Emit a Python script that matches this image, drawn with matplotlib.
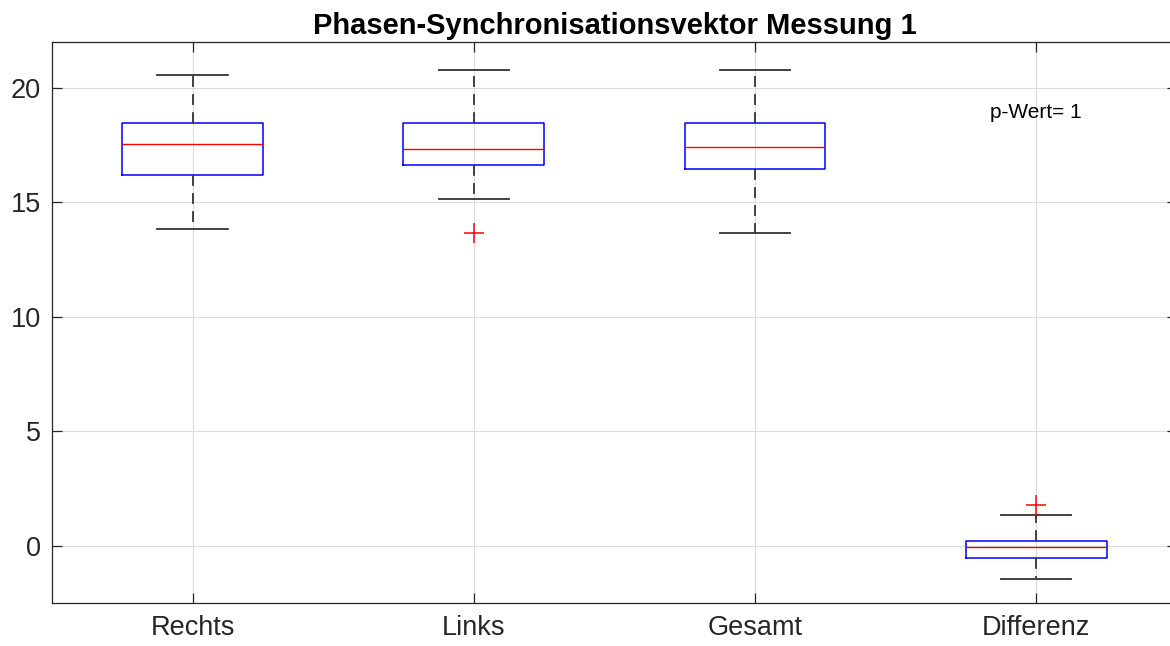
import matplotlib.pyplot as plt

plt.rcParams['font.family'] = ['Liberation Sans', 'DejaVu Sans']

labels = ['Rechts', 'Links', 'Gesamt', 'Differenz']
whisker_lo = [13.84, 15.15, 13.67, -1.44]
q1 = [16.2, 16.64, 16.46, -0.52]
median = [17.55, 17.34, 17.42, -0.04]
q3 = [18.47, 18.47, 18.47, 0.22]
whisker_hi = [20.57, 20.79, 20.79, 1.35]
outliers = [[], [13.67], [], [1.79]]
p_value_text = 'p-Wert= 1'

stats = []
for i in range(len(labels)):
    stats.append({'label': labels[i], 'whislo': whisker_lo[i], 'q1': q1[i], 'med': median[i],
                  'q3': q3[i], 'whishi': whisker_hi[i], 'fliers': outliers[i]})

fig = plt.figure(figsize=(11.7, 6.46), dpi=100)
# axes runs slightly past the right edge of the figure, like the reference
ax = fig.add_axes([0.0444, 0.0666, 0.9615, 0.8684])

ax.bxp(stats, positions=[1, 2, 3, 4], widths=0.5,
       boxprops=dict(color='blue', linewidth=1.1),
       medianprops=dict(color='red', linewidth=1.0),
       whiskerprops=dict(color='#333333', linewidth=1.3, linestyle=(0, (6, 4))),
       capprops=dict(color='#333333', linewidth=1.3),
       flierprops=dict(marker='+', markeredgecolor='red', markersize=14, markeredgewidth=1.1),
       capwidths=0.25)

ax.set_xlim(0.5, 4.5)
ax.set_ylim(-2.5, 22)
ax.set_yticks([0, 5, 10, 15, 20])
ax.grid(True, color='#dcdcdc', linewidth=0.8)
ax.set_axisbelow(True)
ax.tick_params(direction='in', length=7, top=True, right=True, labelsize=19.5, colors='#262626',
               width=0.9)
ax.tick_params(axis='x', pad=9)
ax.tick_params(axis='y', pad=8)
for s in ax.spines.values():
    s.set_color('#262626')
    s.set_linewidth(0.9)

ax.text(4.0, 18.9, p_value_text, fontsize=15, ha='center', va='center')
ax.set_title('Phasen-Synchronisationsvektor Messung 1', fontsize=21, fontweight='bold', pad=6)

fig.savefig('out.png')
